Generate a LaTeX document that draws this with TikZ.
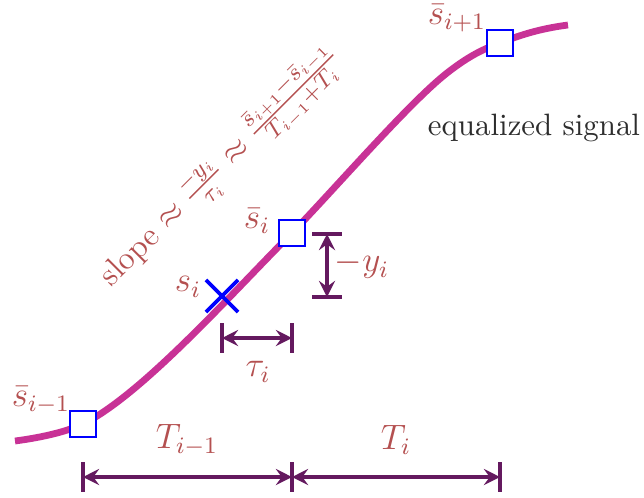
\documentclass[tikz,border=0pt]{standalone}
\usepackage{amsmath,amssymb}
\usepackage{tikz}
\usetikzlibrary{arrows.meta,positioning,calc,shapes.misc}
\definecolor{sigcol}{RGB}{200,50,150}
\definecolor{lblcol}{RGB}{180,80,80}
\definecolor{dimcol}{RGB}{100,25,95}
\definecolor{txtcol}{RGB}{45,45,45}
\tikzset{
  sample/.style={draw=blue,fill=white,line width=0.7pt,minimum size=8.6pt,inner sep=0pt},
  dimline/.style={dimcol,line width=1.6pt,{Stealth[length=5.5pt,width=5.5pt,inset=2pt]}-{Stealth[length=5.5pt,width=5.5pt,inset=2pt]}},
  dimbar/.style={dimcol,line width=1.6pt},
  lbl/.style={lblcol,font=\large},
}

\begin{document}
\begin{tikzpicture}[x=0.34pt,y=-0.34pt]
  \useasboundingbox (0,0) rectangle (644,497);
  \def\bh{15} % half length of the end bars
  \draw[sigcol,line width=2.3pt] (15,441) .. controls (45,437) and (68,431) .. (83,424)
    .. controls (143,394) and (232,293) .. (292,233)
    .. controls (340,183) and (410,102) .. (447,73)
    .. controls (465,59) and (480,50) .. (500,43)
    .. controls (525,33) and (545,28) .. (568,25); % equalized signal
  \node[sample] (sprev) at (83,424) {}; % sample points
  \node[sample] (scur) at (292,233) {};
  \node[sample] (snext) at (500,43) {};
  \node[cross out,draw=blue,line width=1.3pt,minimum size=9.6pt,inner sep=0pt] (si) at (222,296) {}; % true sample
  \node[lbl] (lprev) at (41,400) {$\bar{s}_{i-1}$};
  \node[lbl] (lcur) at (257,221) {$\bar{s}_i$};
  \node[lbl] (lnext) at (457,18) {$\bar{s}_{i+1}$};
  \node[lbl] (lsi) at (188,287) {$s_i$};
  \node[txtcol,font=\fontsize{10.5}{12}\selectfont] (eqsig) at (534,128) {equalized signal};
  \node[lblcol,font=\fontsize{11}{13}\selectfont,rotate=45] (slope) at (222,168) {slope $\approx \frac{-y_i}{\tau_i} \approx \frac{\bar{s}_{i+1}-\bar{s}_{i-1}}{T_{i-1}+T_i}$};
  % vertical offset -y_i
  \coordinate (ytop) at (327,234);
  \coordinate (ybot) at (327,297);
  \draw[dimbar] ($(ytop)+(-\bh,0)$) -- ($(ytop)+(\bh,0)$);
  \draw[dimbar] ($(ybot)+(-\bh,0)$) -- ($(ybot)+(\bh,0)$);
  \draw[dimline] (ytop) -- (ybot);
  \node[lbl] (ly) at (362,265) {$-y_i$};
  % time offset tau_i
  \coordinate (tl) at (222,338);
  \coordinate (tr) at (292,338);
  \draw[dimbar] ($(tl)+(0,-\bh)$) -- ($(tl)+(0,\bh)$);
  \draw[dimbar] ($(tr)+(0,-\bh)$) -- ($(tr)+(0,\bh)$);
  \draw[dimline] (tl) -- (tr);
  \node[lbl] (ltau) at (258,372) {$\tau_i$};
  % symbol periods
  \coordinate (pa) at (83,477);
  \coordinate (pb) at (292,477);
  \coordinate (pc) at (500,477);
  \foreach \p in {pa,pb,pc}
    \draw[dimbar] ($(\p)+(0,-\bh)$) -- ($(\p)+(0,\bh)$);
  \draw[dimline] (pa) -- (pb);
  \draw[dimline] (pb) -- (pc);
  \node[lbl] (lTprev) at (187,440) {$T_{i-1}$};
  \node[lbl] (lTcur) at (396,440) {$T_i$};
\end{tikzpicture}
\end{document}
